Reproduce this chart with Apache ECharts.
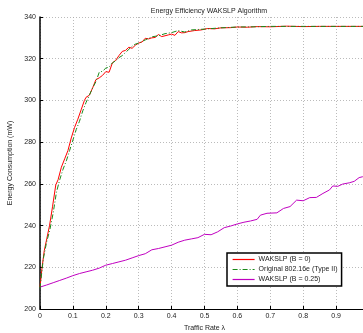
<!DOCTYPE html>
<html><head><meta charset="utf-8">
<script src="https://cdn.jsdelivr.net/npm/echarts@6/dist/echarts.min.js"></script>
<style>html,body{margin:0;padding:0;background:#fff}#c{width:363px;height:333px}</style>
</head><body><div id="c"></div>
<script>
const redX = [0,0.006,0.013,0.021,0.029,0.038,0.048,0.055,0.065,0.075,0.085,0.095,0.105,0.115,0.125,0.135,0.14,0.15,0.16,0.17,0.18,0.19,0.20,0.21,0.22,0.23,0.24,0.25,0.26,0.27,0.28,0.29,0.30,0.31,0.32,0.33,0.34,0.35,0.36,0.37,0.38,0.39,0.40,0.41,0.42,0.43,0.44,0.45,0.47,0.49,0.51,0.53,0.55,0.58,0.60,0.63,0.66,0.70,0.75,0.80,0.85,0.90,0.95,1.0];
const redY = [210.5,219.5,228,234,240,249,259.5,262,268,272,276,282,287,291,295.5,300,301.5,302.5,306,310,310.8,312,313.8,313.5,318,319.2,321.5,323.5,324,325.5,325,326.5,327.5,328,329.8,329.5,330,330.2,331.6,330.6,331,331.4,331.8,331.2,333,332.4,332.5,333,333.5,333.8,334.5,334.3,334.8,334.9,335.2,335.1,335.4,335.3,335.6,335.4,335.5,335.5,335.5,335.5];
const greenX = [0,0.01,0.02,0.03,0.04,0.05,0.06,0.07,0.08,0.09,0.10,0.11,0.12,0.13,0.14,0.15,0.16,0.17,0.18,0.19,0.20,0.21,0.22,0.23,0.24,0.25,0.26,0.27,0.28,0.29,0.30,0.32,0.34,0.36,0.38,0.40,0.42,0.44,0.46,0.48,0.50,0.55,0.60,0.65,0.70,0.80,0.90,1.0];
const greenY = [210,224,232,238,246,256,262,267,271,276,281,286,290,295,299,302.5,306,309,313.5,314,315.5,316,318,319,320.5,321.5,323,324.5,326,327,327.5,329,330.5,331,332,332.5,333.5,332.8,333.8,334,334.2,334.8,335.2,335.3,335.5,335.5,335.5,335.5];
const magX = [0,0.02,0.04,0.06,0.08,0.10,0.12,0.14,0.16,0.18,0.20,0.22,0.24,0.26,0.28,0.30,0.32,0.34,0.36,0.38,0.40,0.42,0.44,0.46,0.48,0.50,0.52,0.54,0.56,0.58,0.60,0.62,0.64,0.66,0.67,0.69,0.72,0.74,0.76,0.78,0.80,0.82,0.84,0.86,0.88,0.89,0.905,0.92,0.94,0.955,0.97,0.98,1.0];
const magY = [210.5,211.5,212.6,213.7,214.8,216,217,217.8,218.6,219.6,221,221.8,222.6,223.4,224.5,225.6,226.5,228.4,229,229.8,230.6,232,233,233.6,234.2,235.8,235.6,237,239,239.8,240.8,241.6,242.2,243,245,245.9,246.1,248.2,249.1,252.2,251.9,253.4,253.5,255.4,257.1,259,258.8,259.9,260.5,261.2,263,263.4,264];
const names = ['WAKSLP (B = 0)','Original 802.16e (Type II)','WAKSLP (B = 0.25)'];
const zip = (a,b)=>a.map((v,i)=>[v,b[i]]);
const font = 'Liberation Sans, Arial, sans-serif';
const chart = echarts.init(document.getElementById('c'));
chart.setOption({
  animation:false,
  title:{text:'Energy Efficiency WAKSLP Algorithm',left:204,textAlign:'center',top:3,textStyle:{fontSize:7,fontWeight:'normal',color:'#222',fontFamily:font}},
  grid:{left:40,top:17,width:329,height:292,outerBoundsMode:'none',containLabel:false},
  xAxis:{type:'value',min:0,max:1,interval:0.1,name:'Traffic Rate λ',nameLocation:'middle',nameGap:13,
    nameTextStyle:{fontSize:7,color:'#222',fontFamily:font},
    axisLine:{lineStyle:{color:'#000',width:1.2}},axisTick:{inside:true,length:3,lineStyle:{color:'#000'}},
    axisLabel:{fontSize:7,color:'#222',margin:4,fontFamily:font},
    splitLine:{show:true,lineStyle:{color:'#aaa',type:[1,2],width:0.8}}},
  yAxis:{type:'value',min:200,max:340,interval:20,name:'Energy Consumption (mW)',nameLocation:'middle',nameGap:20,
    nameTextStyle:{fontSize:7,color:'#222',fontFamily:font},
    axisLine:{show:true,lineStyle:{color:'#000',width:1.5}},axisTick:{show:true,inside:true,length:3,lineStyle:{color:'#000'}},
    axisLabel:{fontSize:7,color:'#222',margin:4,fontFamily:font},
    splitLine:{show:true,lineStyle:{color:'#aaa',type:[1,2],width:0.8}}},
  legend:{orient:'vertical',left:227,top:253,itemWidth:22,itemHeight:8,itemGap:3,padding:[3,4,3,5],
    backgroundColor:'#fff',borderColor:'#000',borderWidth:1.5,
    itemStyle:{color:'transparent',borderWidth:0,opacity:0},
    lineStyle:{width:1.2},
    textStyle:{fontSize:7,color:'#222',fontFamily:font,padding:[0,0,0,-1]},
    data:names},
  series:[
    {name:names[0],type:'line',data:zip(redX,redY),symbol:'none',lineStyle:{color:'#ff0000',width:1},itemStyle:{color:'#ff0000'},z:3},
    {name:names[1],type:'line',data:zip(greenX,greenY),symbol:'none',lineStyle:{color:'#1a8a1a',width:1,type:[5,2,1,2]},itemStyle:{color:'#1a8a1a'},z:4},
    {name:names[2],type:'line',data:zip(magX,magY),symbol:'none',lineStyle:{color:'#c000c0',width:1},itemStyle:{color:'#c000c0'},z:2}
  ]
});
</script></body></html>
